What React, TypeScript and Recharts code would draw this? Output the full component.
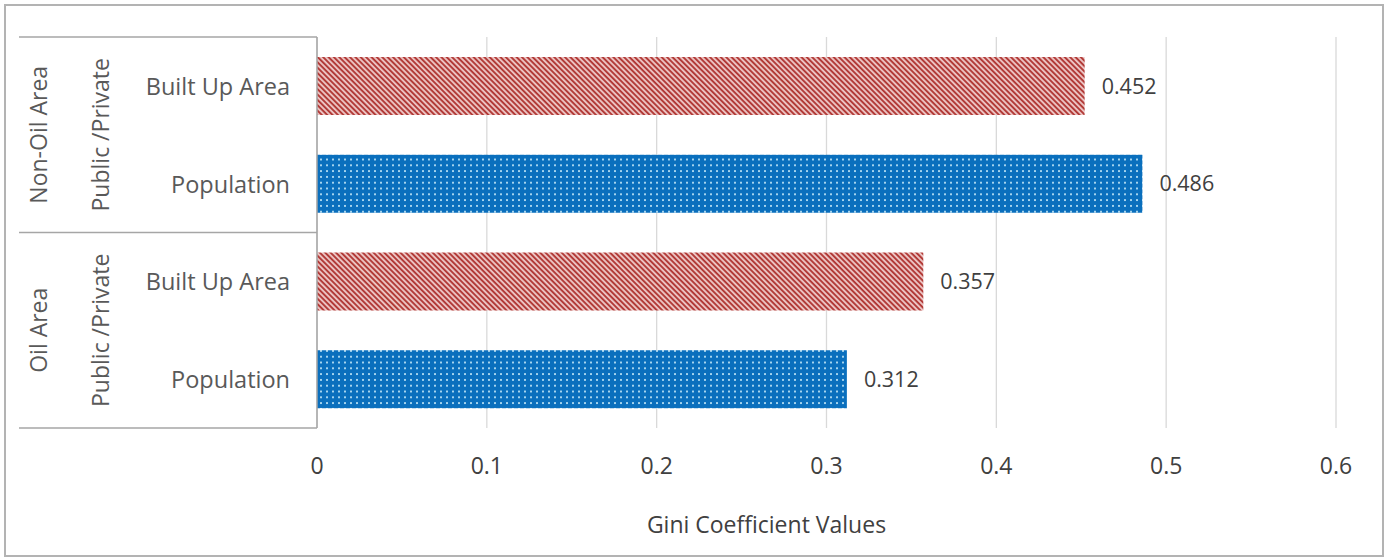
import React from 'react';
import { BarChart, Bar, XAxis, YAxis, CartesianGrid, Cell, LabelList, Label } from 'recharts';

// Gini coefficients of public/private distribution, by area type and measure
const categories = ['Built Up Area', 'Population', 'Built Up Area', 'Population'];
const areaGroups = ['Non-Oil Area', 'Non-Oil Area', 'Oil Area', 'Oil Area'];
const ownershipLabel = 'Public /Private';
const giniValues = [0.452, 0.486, 0.357, 0.312];
const xTicks = [0, 0.1, 0.2, 0.3, 0.4, 0.5, 0.6];
const axisTitle = 'Gini Coefficient Values';

const data = categories.map((category, i) => ({
  key: `${areaGroups[i]}|${category}`,
  category,
  group: areaGroups[i],
  value: giniValues[i],
}));

const FONT = "'Open Sans', 'Noto Sans', sans-serif";
const LINE = '#a6a6a6';

const patternFor = (category: string) =>
  category === 'Built Up Area' ? 'url(#redStripes)' : 'url(#blueDots)';

// Category tick: measure name, plus the nested group labels and the box lines
const CategoryTick = (props: any) => {
  const { x, y, payload } = props;
  const i: number = payload?.index ?? props.index ?? 0;
  const half: number = payload?.offset ?? 48.9;
  const row = data[i];
  const isFirst = i === 0 || data[i - 1].group !== row.group;
  const isLast = i === data.length - 1;
  const groupY = y + half;
  return (
    <g>
      <text
        x={x - 27}
        y={y}
        textAnchor="end"
        dominantBaseline="central"
        fontSize={23.5}
        fill="#595959"
        fontFamily={FONT}
      >
        {row.category}
      </text>
      {isFirst && (
        <g>
          <line x1={x - 298} x2={x} y1={y - half} y2={y - half} stroke={LINE} strokeWidth={1.5} />
          <text
            x={x - 217}
            y={groupY}
            transform={`rotate(-90 ${x - 217} ${groupY})`}
            textAnchor="middle"
            dominantBaseline="central"
            fontSize={23}
            fill="#595959"
            fontFamily={FONT}
          >
            {ownershipLabel}
          </text>
          <text
            x={x - 279}
            y={groupY}
            transform={`rotate(-90 ${x - 279} ${groupY})`}
            textAnchor="middle"
            dominantBaseline="central"
            fontSize={23}
            fill="#595959"
            fontFamily={FONT}
          >
            {row.group}
          </text>
        </g>
      )}
      {isLast && (
        <line x1={x - 298} x2={x} y1={y + half} y2={y + half} stroke={LINE} strokeWidth={1.5} />
      )}
    </g>
  );
};

export default function App() {
  return (
    <div
      style={{
        position: 'absolute',
        left: 0,
        top: 0,
        width: 1388,
        height: 558,
        background: '#fff',
        fontFamily: FONT,
      }}
    >
      <BarChart
        width={1388}
        height={558}
        data={data}
        layout="vertical"
        margin={{ top: 37, right: 52, bottom: 0, left: 0 }}
      >
        <defs>
          <pattern
            id="redStripes"
            patternUnits="userSpaceOnUse"
            width={3.8}
            height={3.8}
            patternTransform="rotate(45)"
          >
            <rect width={3.8} height={3.8} fill="#f6dcdb" />
            <line x1={0} x2={3.8} y1={1.9} y2={1.9} stroke="#b23b38" strokeWidth={2.2} />
          </pattern>
          <pattern id="blueDots" patternUnits="userSpaceOnUse" width={6} height={5.8}>
            <rect width={6} height={5.8} fill="#0a6fbd" />
            <rect x={2.1} y={2.0} width={1.8} height={1.8} fill="#c4e8f8" />
          </pattern>
        </defs>
        <CartesianGrid horizontal={false} stroke="#d9d9d9" strokeWidth={1.3} />
        <XAxis
          type="number"
          domain={[0, 0.6]}
          ticks={xTicks}
          interval={0}
          axisLine={false}
          tickLine={false}
          tickSize={0}
          tickMargin={30}
          height={130}
          tick={{ fontSize: 23, fill: '#404040', fontFamily: FONT }}
        >
          <Label
            value={axisTitle}
            position="insideBottom"
            offset={25}
            dx={-60}
            style={{ fontSize: 23, fill: '#404040', fontFamily: FONT }}
          />
        </XAxis>
        <YAxis
          type="category"
          dataKey="key"
          width={317}
          interval={0}
          tickLine={false}
          tickSize={0}
          tickMargin={0}
          axisLine={{ stroke: LINE, strokeWidth: 1.5 }}
          tick={<CategoryTick />}
        />
        <Bar dataKey="value" barSize={58} isAnimationActive={false}>
          {data.map((d) => (
            <Cell key={d.key} fill={patternFor(d.category)} />
          ))}
          <LabelList
            dataKey="value"
            position="right"
            offset={17}
            style={{ fontSize: 21.5, fill: '#404040', fontFamily: FONT }}
          />
        </Bar>
      </BarChart>
      <div
        style={{
          position: 'absolute',
          left: 4,
          top: 4,
          width: 1380,
          height: 553,
          boxSizing: 'border-box',
          border: '2px solid #b3b3b3',
          pointerEvents: 'none',
        }}
      />
    </div>
  );
}
